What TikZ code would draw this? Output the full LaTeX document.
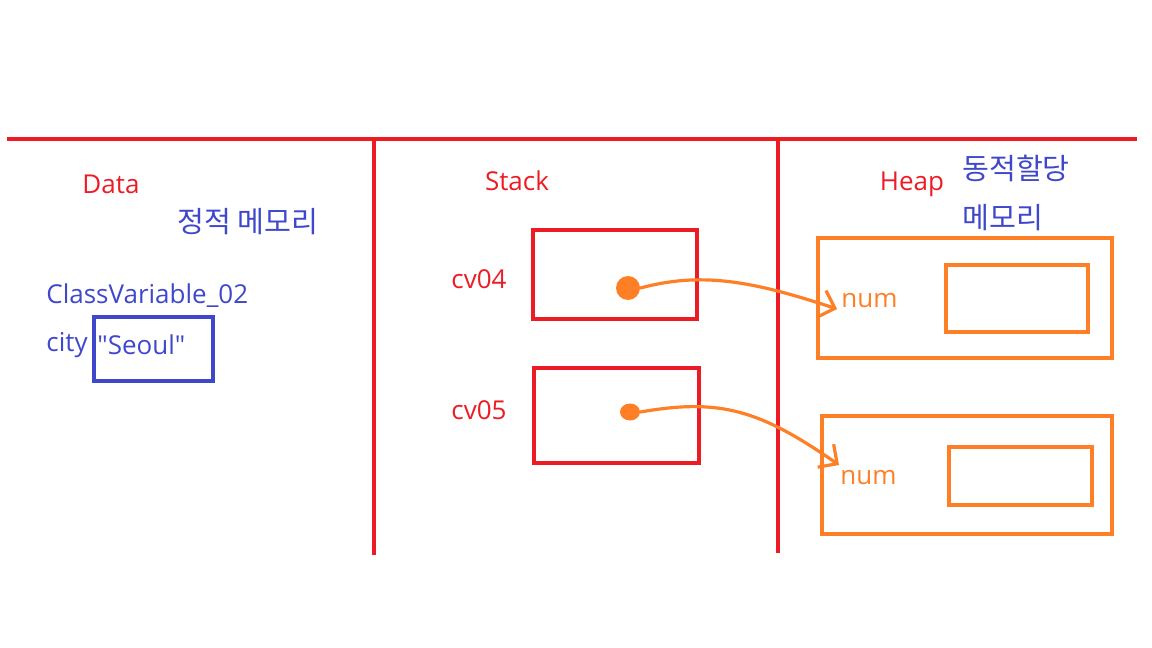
\documentclass[tikz,border=0pt]{standalone}
\usepackage{fontspec}
\newfontfamily\lat{Open Sans}
\newfontfamily\kr{Noto Sans CJK KR}
\usetikzlibrary{arrows.meta,shapes.geometric}
\definecolor{pred}{HTML}{ED1C24}
\definecolor{pblue}{HTML}{3F48CC}
\definecolor{porange}{HTML}{FF7F27}
\tikzset{
  wall/.style={draw=pred,line width=2pt},
  redlbl/.style={text=pred,font=\lat\fontsize{13}{15}\selectfont,inner sep=0pt},
  bluelbl/.style={text=pblue,font=\lat\fontsize{13}{15}\selectfont,inner sep=0pt},
  krlbl/.style={text=pblue,font=\kr\fontsize{14.6}{16}\selectfont,inner sep=0pt},
  orlbl/.style={text=porange,font=\lat\fontsize{13}{15}\selectfont,inner sep=0pt},
  redbox/.style={draw=pred,line width=2pt},
  orbox/.style={draw=porange,line width=2pt},
  bluebox/.style={draw=pblue,line width=2.2pt},
  refline/.style={draw=porange,line width=1.6pt,line cap=round,
    -{Straight Barb[length=7pt,width=14pt,line width=1.6pt]}},
  dot/.style={fill=porange,ellipse,inner sep=0pt}
}
\begin{document}
\begin{tikzpicture}[x=0.5pt,y=-0.5pt]
\useasboundingbox (0,0) rectangle (1152,648);
% walls
\coordinate (hl) at (7,139);
\coordinate (hr) at (1137,139);
\coordinate (v1t) at (374,139);
\coordinate (v1b) at (374,555);
\coordinate (v2t) at (778,139);
\coordinate (v2b) at (778,553);
\draw[wall] (hl) -- (hr);
\draw[wall] (v1t) -- (v1b);
\draw[wall] (v2t) -- (v2b);
% Data area
\node[redlbl] (data) at (111,184) {Data};
\node[krlbl] (static) at (248,222) {정적 메모리};
\node[bluelbl,anchor=west] (cls) at (46,296) {ClassVariable\_02};
\node[bluelbl,anchor=west] (city) at (46,345) {city};
\draw[bluebox] (94,317) rectangle (213,381);
\node[bluelbl,anchor=west] (seoul) at (97,345) {"Seoul"};
% Stack area
\node[redlbl] (stack) at (517,181) {Stack};
\node[redlbl] (cv04) at (479,279) {cv04};
\node[redlbl] (cv05) at (479,410) {cv05};
\draw[redbox] (533,230) rectangle (697,319);
\draw[redbox] (534,368) rectangle (699,463);
\node[dot,minimum width=12pt,minimum height=12pt] (d1) at (628,288) {};
\node[dot,minimum width=10pt,minimum height=8.5pt] (d2) at (630,412) {};
% Heap area
\node[redlbl] (heap) at (912,184) {Heap};
\node[krlbl] (dyn1) at (1016,168) {동적할당};
\node[krlbl] (dyn2) at (1003,218) {메모리};
\draw[orbox] (818,238) rectangle (1112,358);
\draw[orbox] (946,265) rectangle (1088,332);
\draw[orbox] (822,416) rectangle (1112,534);
\draw[orbox] (949,447) rectangle (1092,505);
\node[orlbl,anchor=west] (num1) at (841,301) {num};
\node[orlbl,anchor=west] (num2) at (840,478) {num};
\coordinate (t1) at (837,309);
\coordinate (t2) at (839,465);
% references
\draw[refline] (d1.east) .. controls (700,272) and (750,280) .. (t1);
\draw[refline] (d2.east) .. controls (720,398) and (760,410) .. (t2);
\end{tikzpicture}
\end{document}
